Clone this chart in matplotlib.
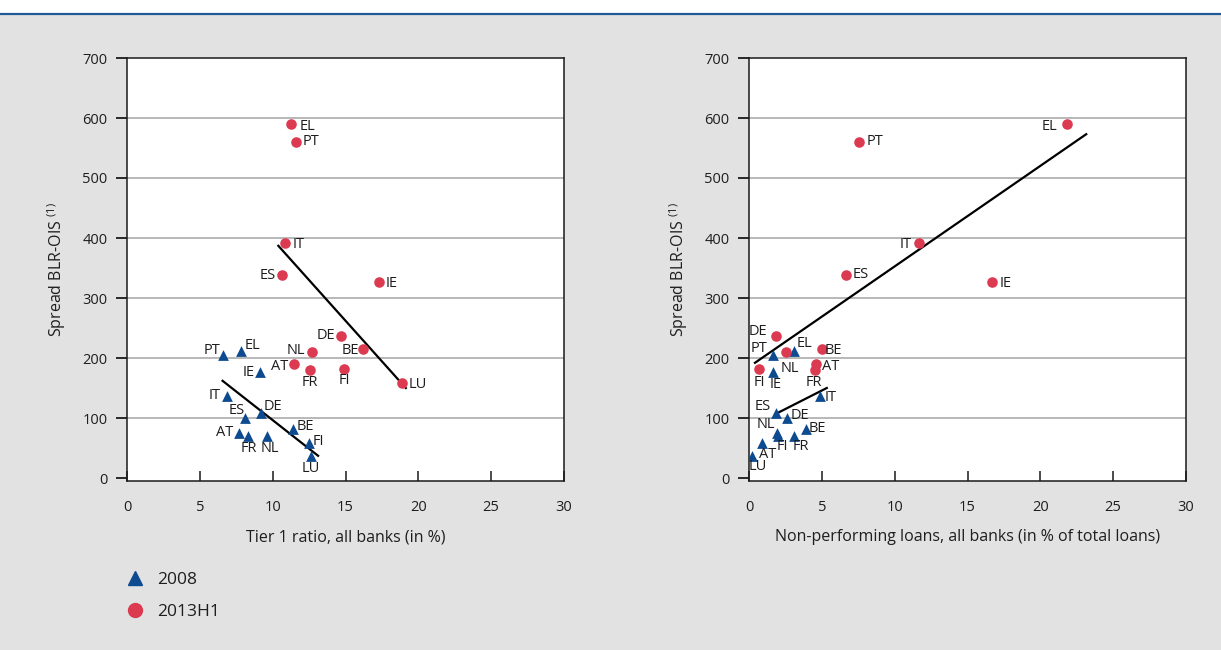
import numpy as np
import matplotlib.pyplot as plt
from matplotlib.patches import Rectangle
from matplotlib.lines import Line2D

plt.rcParams['font.family'] = ['Open Sans', 'DejaVu Sans']
plt.rcParams['mathtext.default'] = 'regular'

# countries
countries = ['EL', 'PT', 'IT', 'ES', 'IE', 'DE', 'BE', 'NL', 'AT', 'FR', 'FI', 'LU']

# spread BLR-OIS (basis points)
spread_2008 = [212, 205, 137, 100, 177, 108, 82, 70, 75, 70, 58, 37]
spread_2013 = [590, 560, 391, 339, 326, 237, 215, 210, 190, 180, 182, 158]

# tier 1 ratio (%)
tier1_2008 = [7.86, 6.56, 6.84, 8.07, 9.16, 9.23, 11.41, 9.64, 7.66, 8.34, 12.51, 12.65]
tier1_2013 = [11.28, 11.62, 10.87, 10.66, 17.3, 14.7, 16.2, 12.71, 11.48, 12.58, 14.9, 18.87]

# non-performing loans (% of total loans), LU not available for 2013H1
npl_2008 = [3.07, 1.65, 4.9, 2.6, 1.65, 1.85, 3.9, 2.0, 1.9, 3.07, 0.9, 0.2]
npl_2013 = [21.8, 7.53, 11.64, 6.64, 16.7, 1.85, 5.0, 2.53, 4.59, 4.52, 0.68, np.nan]

# fitted lines (x0, x1), (y0, y1)
fit_t1_2008 = ([6.56, 13.12], [162, 37])
fit_t1_2013 = ([10.39, 19.14], [387, 150])
fit_npl_2008 = ([1.85, 5.34], [107, 150])
fit_npl_2013 = ([0.41, 23.15], [192, 573])

# label offsets in pixels (dx, dy)
off_t1_2008 = [(11, 5), (-11, 5), (-12, 0), (-8, 8), (-12, -1), (11, 7),
               (12, 2), (2, -12), (-14, 0), (0, -12), (9, 2), (0, -13)]
off_t1_2013 = [(16, -2), (15, 0), (13, -1), (-15, -1), (13, -1), (-15, 0),
               (-13, -1), (-16, 2), (-15, -2), (0, -12), (0, -12), (16, -1)]
off_npl_2008 = [(11, 7), (-14, 6), (10, -2), (-24, 12), (3, -13), (24, -2),
                (12, 0), (-12, 12), (-9, -22), (7, -11), (20, -3), (6, -11)]
off_npl_2013 = [(-17, -2), (16, 0), (-13, -1), (15, 0), (13, -1), (-18, 4),
                (12, -1), (4, -17), (15, -3), (-1, -13), (0, -14), (0, 0)]

blue = '#0d4a8f'
red = '#db3a50'
txt = '#1e1e1e'
bg = '#e2e2e2'

fig = plt.figure(figsize=(12.21, 6.5), dpi=100)
fig.patch.set_facecolor(bg)
fig.add_artist(Rectangle((0, 1 - 13 / 650), 1, 13 / 650, transform=fig.transFigure,
                         facecolor='white', edgecolor='none'))
fig.add_artist(Line2D([0, 1], [1 - 14 / 650, 1 - 14 / 650], transform=fig.transFigure,
                      color='#1f5a96', lw=1.6))

W, H = 1221, 650
ax1 = fig.add_axes([127 / W, 1 - 481 / H, 437 / W, 423 / H])
ax2 = fig.add_axes([749 / W, 1 - 481 / H, 437 / W, 423 / H])


def panel(ax, x08, x13, f08, f13, o08, o13, xlabel):
    ax.set_facecolor('white')
    ax.set_xlim(0, 30)
    ax.set_ylim(-5, 700)
    ax.set_xticks(range(0, 31, 5))
    ax.set_yticks(range(0, 701, 100))
    for y in range(100, 700, 100):
        ax.axhline(y, color='#ababab', lw=1.2, zorder=0)
    for s in ax.spines.values():
        s.set_color('#1a1a1a')
        s.set_linewidth(1.1)
    ax.tick_params(axis='y', direction='out', length=8, width=1.3, pad=6,
                   labelsize=10.5, labelcolor=txt, colors='#1a1a1a')
    ax.tick_params(axis='x', direction='in', length=7, width=1.1, pad=14,
                   labelsize=10.5, labelcolor=txt, colors='#1a1a1a')
    ax.set_xlabel(xlabel, fontsize=11.5, color=txt, labelpad=10)
    ax.set_ylabel('Spread BLR-OIS $^{(1)}$', fontsize=11.5, color=txt, labelpad=10)

    ax.plot(*f08, color='black', lw=1.6, zorder=2)
    ax.plot(*f13, color='black', lw=1.6, zorder=2)
    ax.scatter(x08, spread_2008, marker='^', s=60, color=blue, zorder=3, linewidths=0)
    ax.scatter(x13, spread_2013, marker='o', s=58, color=red, zorder=3, linewidths=0)

    for i, c in enumerate(countries):
        ax.annotate(c, (x08[i], spread_2008[i]), xytext=o08[i], textcoords='offset pixels',
                    ha='center', va='center', fontsize=10.5, color=txt, zorder=4)
        if not np.isnan(x13[i]):
            ax.annotate(c, (x13[i], spread_2013[i]), xytext=o13[i], textcoords='offset pixels',
                        ha='center', va='center', fontsize=10.5, color=txt, zorder=4)


panel(ax1, tier1_2008, tier1_2013, fit_t1_2008, fit_t1_2013, off_t1_2008, off_t1_2013,
      'Tier 1 ratio, all banks (in %)')
panel(ax2, npl_2008, npl_2013, fit_npl_2008, fit_npl_2013, off_npl_2008, off_npl_2013,
      'Non-performing loans, all banks (in % of total loans)')

handles = [
    Line2D([], [], marker='^', ls='none', color=blue, markersize=10),
    Line2D([], [], marker='o', ls='none', color=red, markersize=10),
]
fig.legend(handles, ['2008', '2013H1'], loc='upper left', bbox_to_anchor=(111 / W, 1 - 556 / H),
           frameon=False, fontsize=12.5, handlelength=1.0, handletextpad=0.75,
           labelspacing=0.95, labelcolor=txt)

fig.savefig('out.png', dpi=100, facecolor=bg)
